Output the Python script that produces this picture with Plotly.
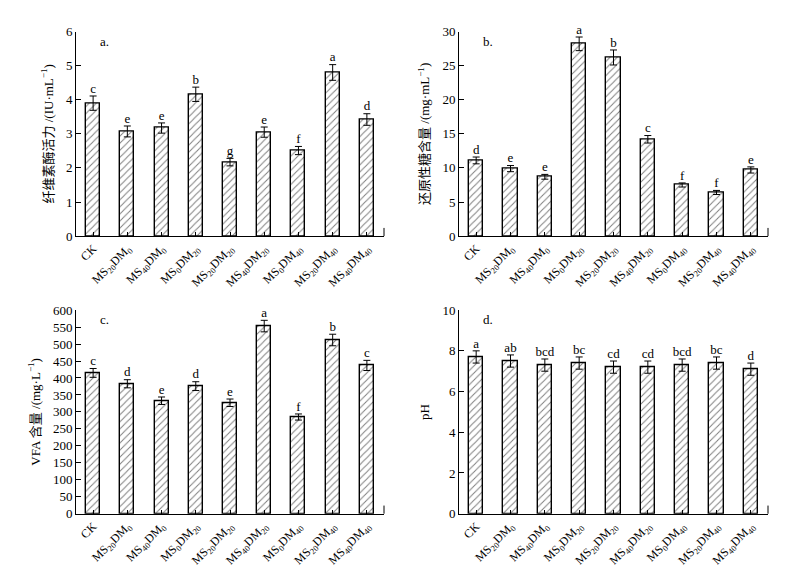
import plotly.graph_objects as go
from plotly.subplots import make_subplots

categories = ["CK", "MS<sub>20</sub>DM<sub>0</sub>", "MS<sub>40</sub>DM<sub>0</sub>", "MS<sub>0</sub>DM<sub>20</sub>",
              "MS<sub>20</sub>DM<sub>20</sub>", "MS<sub>40</sub>DM<sub>20</sub>", "MS<sub>0</sub>DM<sub>40</sub>",
              "MS<sub>20</sub>DM<sub>40</sub>", "MS<sub>40</sub>DM<sub>40</sub>"]

cellulase = [3.90, 3.07, 3.17, 4.16, 2.17, 3.05, 2.51, 4.80, 3.42]
cellulase_err = [0.21, 0.16, 0.15, 0.21, 0.11, 0.15, 0.12, 0.23, 0.17]
cellulase_sig = ["c", "e", "e", "b", "g", "e", "f", "a", "d"]

sugar = [11.1, 9.9, 8.7, 28.2, 26.2, 14.2, 7.5, 6.4, 9.7]
sugar_err = [0.5, 0.45, 0.35, 1.0, 1.1, 0.55, 0.3, 0.3, 0.45]
sugar_sig = ["d", "e", "e", "a", "b", "c", "f", "f", "e"]

vfa = [415, 383, 333, 376, 327, 553, 285, 512, 437]
vfa_err = [13, 12, 11, 13, 11, 17, 9, 17, 15]
vfa_sig = ["c", "d", "e", "d", "e", "a", "f", "b", "c"]

ph = [7.7, 7.5, 7.3, 7.4, 7.2, 7.2, 7.3, 7.4, 7.1]
ph_err = [0.3, 0.3, 0.3, 0.3, 0.3, 0.3, 0.3, 0.3, 0.3]
ph_sig = ["a", "ab", "bcd", "bc", "cd", "cd", "bcd", "bc", "d"]

panels = [
    (cellulase, cellulase_err, cellulase_sig, "a.", "纤维素酶活力 /(IU·mL<sup>−1</sup>)", [0, 6], 1),
    (sugar, sugar_err, sugar_sig, "b.", "还原性糖含量 /(mg·mL<sup>−1</sup>)", [0, 30], 5),
    (vfa, vfa_err, vfa_sig, "c.", "VFA 含量 /(mg·L<sup>−1</sup>)", [0, 600], 50),
    (ph, ph_err, ph_sig, "d.", "pH", [0, 10], 2),
]

FONT = "Liberation Serif, Times New Roman, Noto Sans CJK SC, serif"

fig = make_subplots(rows=2, cols=2)

W, H = 802, 578
xdoms = [(68 / W, 376 / W), (451 / W, 760 / W)]
ydoms = [((578 - 227) / H, (578 - 17) / H), ((578 - 512) / H, (578 - 303) / H)]

for i, (vals, errs, sig, lab, ytitle, yr, dt) in enumerate(panels):
    r, c = i // 2 + 1, i % 2 + 1
    fig.add_trace(go.Bar(
        x=categories, y=vals, width=0.41,
        marker=dict(color="white", line=dict(color="black", width=1.4),
                    pattern=dict(shape="/", fgcolor="black", bgcolor="white", size=5, solidity=0.2)),
        error_y=dict(type="data", array=errs, color="black", thickness=1, width=3.5),
        showlegend=False), row=r, col=c)
    fig.add_trace(go.Scatter(
        x=categories, y=[v + e for v, e in zip(vals, errs)], mode="text", text=sig,
        textposition="top center", textfont=dict(family=FONT, size=13, color="black"),
        showlegend=False, cliponaxis=False), row=r, col=c)
    xa = "xaxis" if i == 0 else f"xaxis{i+1}"
    ya = "yaxis" if i == 0 else f"yaxis{i+1}"
    xd = xdoms[c - 1]
    yd = ydoms[r - 1]
    fig.layout[xa].update(domain=list(xd), range=[-0.5, 8.5], showline=True, linecolor="black", linewidth=1,
                          ticks="inside", ticklen=4, tickcolor="black", tickangle=-45, showgrid=False,
                          tickfont=dict(family=FONT, size=12, color="black"), zeroline=False)
    fig.layout[ya].update(domain=list(yd), range=yr, dtick=dt, showline=True, linecolor="black", linewidth=1,
                          ticks="inside", ticklen=5, tickcolor="black", showgrid=False, zeroline=False,
                          tickfont=dict(family=FONT, size=13, color="black"),
                          title=dict(text=ytitle, font=dict(family=FONT, size=13, color="black"), standoff=9))
    xref = "x" if i == 0 else f"x{i+1}"
    yref = "y" if i == 0 else f"y{i+1}"
    fig.add_annotation(text=lab, xref=f"{xref} domain", yref=f"{yref} domain", x=0.07, y=1.0,
                       xanchor="left", yanchor="top", showarrow=False,
                       font=dict(family=FONT, size=13, color="black"))
    fig.add_shape(type="line", xref=f"{xref} domain", yref=f"{yref} domain", x0=1, x1=1, y0=0, y1=0.04,
                  line=dict(color="black", width=1))

fig.update_layout(width=W, height=H, margin=dict(l=0, r=0, t=0, b=0),
                  plot_bgcolor="white", paper_bgcolor="white", bargap=0,
                  font=dict(family=FONT, size=13, color="black"))

fig.write_html("out.html")
